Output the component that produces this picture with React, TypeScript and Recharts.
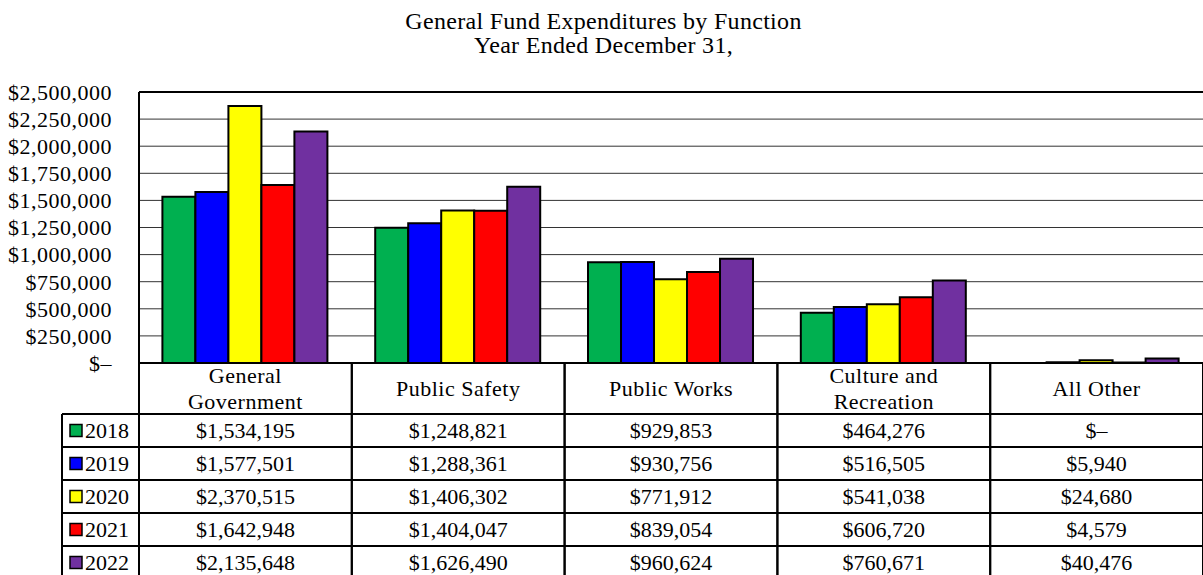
import { BarChart, Bar, XAxis, YAxis, CartesianGrid, ReferenceLine } from 'recharts';

const categories = ['General Government', 'Public Safety', 'Public Works', 'Culture and Recreation', 'All Other'];
const headerLines = [['General', 'Government'], ['Public Safety'], ['Public Works'], ['Culture and', 'Recreation'], ['All Other']];
const years = ['2018', '2019', '2020', '2021', '2022'];
const colors = ['#00b050', '#0000ff', '#ffff00', '#ff0000', '#7030a0'];

const v2018 = [1534195, 1248821, 929853, 464276, 0];
const v2019 = [1577501, 1288361, 930756, 516505, 5940];
const v2020 = [2370515, 1406302, 771912, 541038, 24680];
const v2021 = [1642948, 1404047, 839054, 606720, 4579];
const v2022 = [2135648, 1626490, 960624, 760671, 40476];
const series = [v2018, v2019, v2020, v2021, v2022];

const yTicks = [0, 250000, 500000, 750000, 1000000, 1250000, 1500000, 1750000, 2000000, 2250000, 2500000];

const data = categories.map((name, i) => {
  const row: any = { name };
  years.forEach((yr, s) => { row['y' + yr] = series[s][i]; });
  return row;
});

const W = 1203;
const H = 575;
const PLOT_LEFT = 139;
const PLOT_TOP = 92;
const PLOT_BOTTOM = 363;
const BAND = (W - PLOT_LEFT) / categories.length;
const HEADER_H = 51;
const ROW_H = 33;
const FONT = '"Times New Roman", Times, "Liberation Serif", "DejaVu Serif", serif';

const money = (v: number) => (v === 0 ? '$–' : '$' + v.toLocaleString('en-US'));

// data table under the plot, one column per category tick
const TableColumn = (props: any) => {
  const { x, y, payload } = props;
  const i = payload.index;
  const left = x - BAND / 2;
  const right = x + BAND / 2;
  const lines = headerLines[i];
  const rowTop = y + HEADER_H;
  return (
    <g>
      <line x1={left} x2={left} y1={y} y2={H} stroke="#000" strokeWidth={2} />
      <line x1={right} x2={right} y1={y} y2={H} stroke="#000" strokeWidth={2} />
      {lines.map((t, k) => (
        <text key={k} x={x} y={y + HEADER_H / 2 + (k - (lines.length - 1) / 2) * 26} textAnchor="middle"
          dominantBaseline="central" fontSize={22} letterSpacing={0.5} style={{ fontFamily: FONT }} fill="#000">{t}</text>
      ))}
      {years.map((yr, s) => (
        <g key={yr}>
          <line x1={i === 0 ? left - 77 : left} x2={right} y1={rowTop + s * ROW_H} y2={rowTop + s * ROW_H} stroke="#000" strokeWidth={2} />
          <text x={x} y={rowTop + s * ROW_H + ROW_H / 2} textAnchor="middle" dominantBaseline="central"
            fontSize={22} style={{ fontFamily: FONT }} fill="#000">{money(series[s][i])}</text>
          {i === 0 && (
            <g>
              <rect x={left - 69} y={rowTop + s * ROW_H + ROW_H / 2 - 6} width={12} height={12} fill={colors[s]} stroke="#000" strokeWidth={1.5} />
              <text x={left - 54} y={rowTop + s * ROW_H + ROW_H / 2} dominantBaseline="central"
                fontSize={22} style={{ fontFamily: FONT }} fill="#000">{yr}</text>
            </g>
          )}
        </g>
      ))}
      {i === 0 && <line x1={left - 77} x2={left - 77} y1={rowTop} y2={H} stroke="#000" strokeWidth={2} />}
    </g>
  );
};

export default function App() {
  return (
    <div style={{ position: 'fixed', left: 0, top: 0, width: W, height: H, background: '#fff', overflow: 'hidden', fontFamily: FONT }}>
      <div style={{ position: 'absolute', left: 2, top: 9, width: W, textAlign: 'center', fontFamily: FONT, fontSize: 24, lineHeight: '24px', letterSpacing: 0.3, color: '#000' }}>
        General Fund Expenditures by Function<br />Year Ended December 31,
      </div>
      <BarChart width={W} height={H} data={data} margin={{ top: PLOT_TOP, right: 0, bottom: 0, left: 0 }}
        barCategoryGap="11%" barGap={0} style={{ fontFamily: FONT }}>
        <CartesianGrid vertical={false} stroke="#333" strokeWidth={1} />
        <ReferenceLine y={2500000} stroke="#000" strokeWidth={2} />
        <YAxis domain={[0, 2500000]} ticks={yTicks} interval={0} width={PLOT_LEFT} tickLine={false}
          axisLine={{ stroke: '#000', strokeWidth: 2 }} tickMargin={21} tickFormatter={money}
          tick={{ fill: '#000', fontSize: 22, letterSpacing: 0.5, style: { fontFamily: FONT } }} />
        <XAxis dataKey="name" height={H - PLOT_BOTTOM} interval={0} tickLine={false} tickSize={0} tickMargin={0}
          axisLine={{ stroke: '#000', strokeWidth: 2 }} tick={<TableColumn />} />
        {years.map((yr, s) => (
          <Bar key={yr} dataKey={'y' + yr} name={yr} fill={colors[s]} stroke="#000" strokeWidth={2} isAnimationActive={false} />
        ))}
      </BarChart>
    </div>
  );
}
